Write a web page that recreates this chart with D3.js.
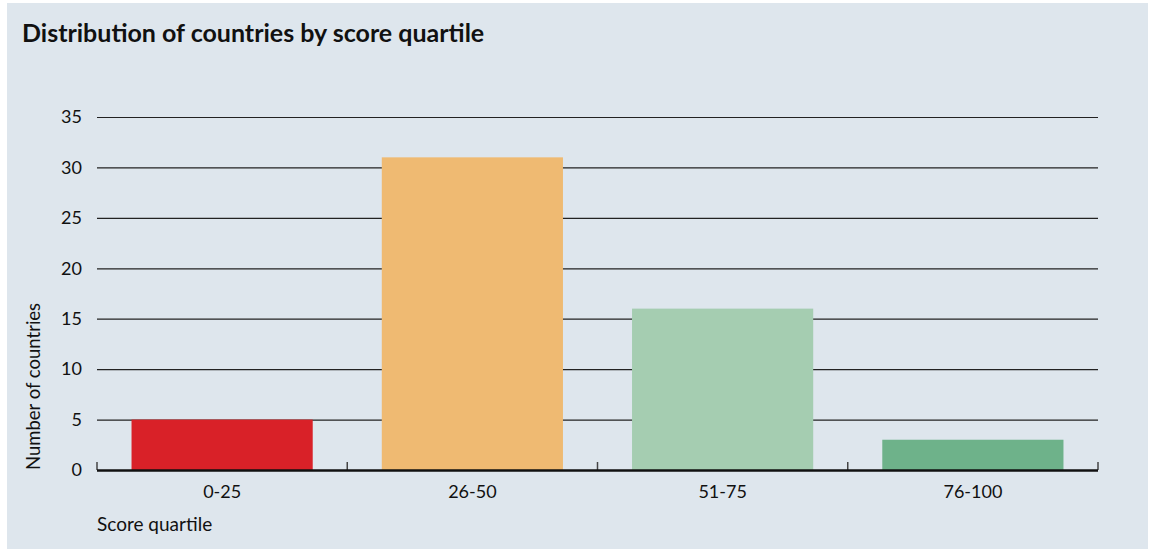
<!DOCTYPE html>
<html>
<head>
<meta charset="utf-8">
<script src="https://cdn.jsdelivr.net/npm/d3@7"></script>
<style>
  body { margin: 0; background: #fff; }
  text { font-family: "Lato", "Open Sans", sans-serif; }
</style>
</head>
<body>
<svg id="chart" width="1152" height="550"></svg>
<script>
// 数据
var quartiles = ["0-25", "26-50", "51-75", "76-100"];
var countryCounts = [5, 31, 16, 3];
var barColors = ["#d92128", "#efba72", "#a5cdb1", "#6eb28a"];
var yTicks = [0, 5, 10, 15, 20, 25, 30, 35];

var svg = d3.select("#chart");

// 背景
svg.append("rect")
    .attr("x", 7).attr("y", 3)
    .attr("width", 1141).attr("height", 546)
    .attr("fill", "#dee6ed");

svg.append("text")
    .attr("x", 22).attr("y", 42)
    .attr("font-size", 25)
    .attr("font-weight", "bold")
    .attr("fill", "#111")
    .text("Distribution of countries by score quartile");

var plotLeft = 97, plotRight = 1098, plotTop = 117, plotBottom = 470;

var x = d3.scaleBand()
    .domain(quartiles)
    .range([plotLeft, plotRight])
    .paddingInner(0.276)
    .paddingOuter(0.138);

var y = d3.scaleLinear()
    .domain([0, 35])
    .range([plotBottom, plotTop]);

// 网格线
var yAxis = svg.append("g")
    .attr("transform", "translate(" + plotLeft + ",0)")
    .call(d3.axisLeft(y).tickValues(yTicks).tickSize(-(plotRight - plotLeft)).tickPadding(15));
yAxis.select(".domain").remove();
yAxis.selectAll(".tick line")
    .attr("stroke", "#222")
    .attr("stroke-width", 1.2)
    .attr("display", function(d){ return d == 0 ? "none" : null; });
yAxis.selectAll(".tick text")
    .attr("font-size", 18)
    .attr("fill", "#111");

// 柱子
svg.selectAll(".bar")
    .data(countryCounts)
    .enter()
    .append("rect")
    .attr("class", "bar")
    .attr("x", function(d, i){ return x(quartiles[i]); })
    .attr("y", function(d){ return y(d); })
    .attr("width", x.bandwidth())
    .attr("height", function(d){ return y(0) - y(d); })
    .attr("fill", function(d, i){ return barColors[i]; });

// x轴
var xAxis = svg.append("g")
    .attr("transform", "translate(0," + plotBottom + ")")
    .call(d3.axisBottom(x).tickSize(0).tickPadding(15));
xAxis.select(".domain").remove();
xAxis.selectAll(".tick text")
    .attr("font-size", 18)
    .attr("fill", "#111");

// 类别之间的小刻度
var bounds = quartiles.map(function(q){ return x(q) - x.step() * x.paddingOuter(); });
bounds.push(plotRight);
svg.selectAll(".sep")
    .data(bounds)
    .enter()
    .append("line")
    .attr("x1", function(d){ return d; })
    .attr("x2", function(d){ return d; })
    .attr("y1", plotBottom - 8)
    .attr("y2", plotBottom)
    .attr("stroke", "#444")
    .attr("stroke-width", 1.5);

svg.append("line")
    .attr("x1", plotLeft).attr("x2", plotRight)
    .attr("y1", plotBottom + 0.5).attr("y2", plotBottom + 0.5)
    .attr("stroke", "#111")
    .attr("stroke-width", 2.5);

svg.append("text")
    .attr("x", plotLeft).attr("y", 531)
    .attr("font-size", 19)
    .attr("fill", "#111")
    .text("Score quartile");

svg.append("text")
    .attr("transform", "translate(40," + plotBottom + ") rotate(-90)")
    .attr("font-size", 18.5)
    .attr("fill", "#111")
    .text("Number of countries");
</script>
</body>
</html>
